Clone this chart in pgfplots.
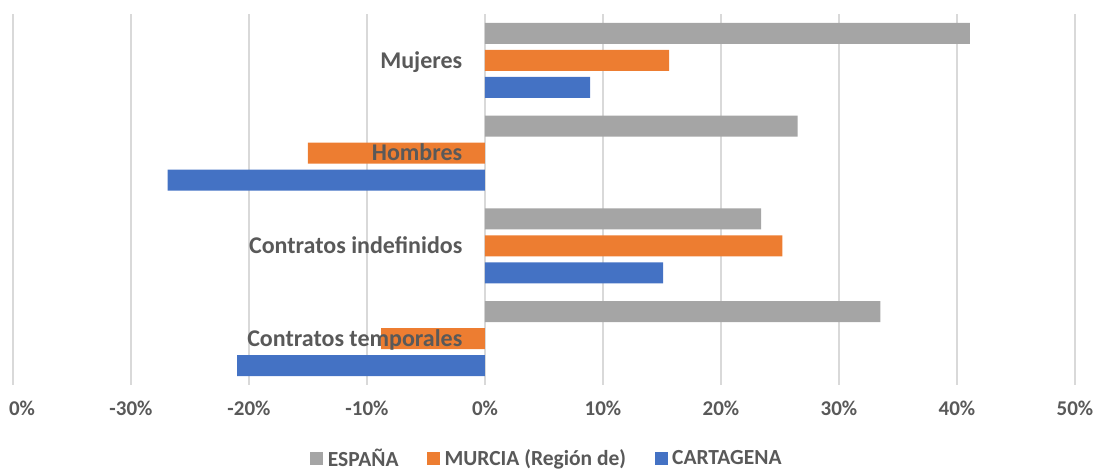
\documentclass[border=0pt]{standalone}
\usepackage{pgfplots}
\pgfplotsset{compat=1.18}
\usepackage{fontspec}
\setmainfont{Carlito}
\definecolor{cgray}{HTML}{A5A5A5}
\definecolor{corange}{HTML}{ED7D31}
\definecolor{cblue}{HTML}{4472C4}
\definecolor{ctext}{HTML}{595959}
\definecolor{cgrid}{HTML}{D9D9D9}
\begin{document}
\begin{tikzpicture}[x=1pt,y=1pt]
\useasboundingbox (0,0) rectangle (1097,470);
\begin{axis}[
  at={(13pt,85pt)}, anchor=south west,
  scale only axis, width=1062pt, height=371pt,
  xmin=-40, xmax=50, ymin=-0.5, ymax=3.5, y dir=reverse,
  xbar, bar width=0.2264,
  axis line style={draw=none}, tick style={draw=none},
  xtick={-40,-30,-20,-10,0,10,20,30,40,50},
  xticklabels={{\hspace*{18pt}0\%},-30\%,-20\%,-10\%,0\%,10\%,20\%,30\%,40\%,50\%},
  xticklabel style={font=\fontsize{21}{25}\selectfont\bfseries, text=ctext, yshift=-12pt},
  ytick=\empty,
  xmajorgrids, grid style={cgrid, line width=1.3pt},
  legend style={draw=none, at={(0.504,-0.197)}, anchor=center, legend columns=3,
    font=\fontsize{21.5}{25}\selectfont\bfseries, text=ctext,
    nodes={inner ysep=2pt, inner xsep=4.5pt, anchor=west},
    /tikz/every even column/.append style={column sep=24pt}},
  legend image code/.code={\fill[#1] (0pt,-6.5pt) rectangle (13pt,6.5pt);},
]
\addplot[fill=cgray, draw=none, bar shift=-0.291] coordinates {(41.1,0) (26.5,1) (23.4,2) (33.5,3)};
\addplot[fill=corange, draw=none, bar shift=0] coordinates {(15.6,0) (-15.0,1) (25.2,2) (-8.8,3)};
\addplot[fill=cblue, draw=none, bar shift=0.291] coordinates {(8.9,0) (-26.9,1) (15.1,2) (-21.0,3)};
\legend{ESPAÑA, MURCIA (Región de), CARTAGENA}
\node[anchor=base east, inner sep=0pt, xshift=-22.5pt, yshift=-7.7pt, font=\fontsize{24}{28}\selectfont\bfseries, text=ctext] at (axis cs:0,0) {Mujeres};
\node[anchor=base east, inner sep=0pt, xshift=-22.5pt, yshift=-7.7pt, font=\fontsize{24}{28}\selectfont\bfseries, text=ctext] at (axis cs:0,1) {Hombres};
\node[anchor=base east, inner sep=0pt, xshift=-22.5pt, yshift=-7.7pt, font=\fontsize{24}{28}\selectfont\bfseries, text=ctext] at (axis cs:0,2) {Contratos indefinidos};
\node[anchor=base east, inner sep=0pt, xshift=-22.5pt, yshift=-7.7pt, font=\fontsize{24}{28}\selectfont\bfseries, text=ctext] at (axis cs:0,3) {Contratos temporales};
\end{axis}
\end{tikzpicture}
\end{document}
